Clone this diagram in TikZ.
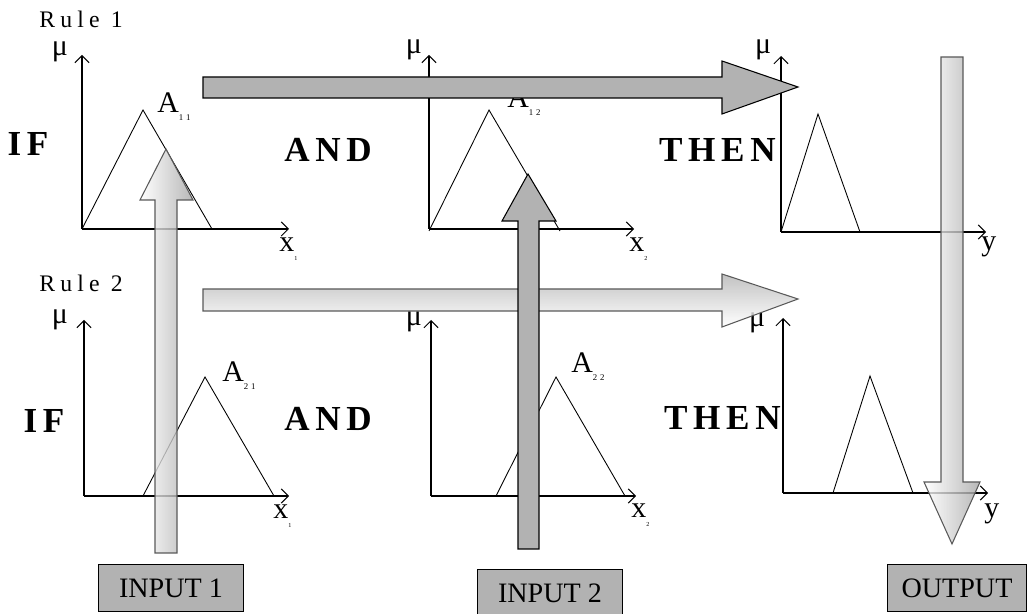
\documentclass[tikz,border=0pt]{standalone}
\usepackage{xcolor}
\usepackage{fontspec}
\setmainfont{Liberation Serif}
\newfontfamily\rulefont[LetterSpace=22]{Liberation Serif}
\newfontfamily\wordfont[LetterSpace=16]{Liberation Serif}
\usepackage{tikz}
\usetikzlibrary{arrows.meta}
\newcommand\subA[2]{A\raisebox{-.55ex}{\fontsize{5}{5}\selectfont #1\,\,#2}}
\newcommand\subX[2]{#1\raisebox{-.6ex}{\fontsize{3.5}{3.5}\selectfont #2}}

\begin{document}
\begin{tikzpicture}[x=0.02cm,y=-0.02cm,
    axis/.style={-{Straight Barb[length=4pt,width=8pt]},line width=0.6pt},
    memb/.style={line width=0.5pt},
    word/.style={font=\fontsize{20}{22}\selectfont\wordfont\bfseries},
    rulelab/.style={font=\fontsize{13.5}{14}\selectfont\rulefont,inner sep=1pt},
    lab/.style={font=\fontsize{17}{19}\selectfont,inner sep=0pt},
    iobox/.style={draw,fill=black!30,minimum width=82pt,minimum height=27pt,
      font=\fontsize{16}{18}\selectfont,line width=0.6pt},
    solidarrow/.style={draw=black,fill=black!30,line width=0.6pt},
    vshade/.style={draw=black!65,line width=0.6pt,left color=white,right color=black!35,fill opacity=0.8},
    hshade/.style={draw=black!65,line width=0.6pt,top color=black!30,bottom color=white,fill opacity=0.8}]
    \useasboundingbox (0,0) rectangle (1028,614);
    % axes of the six membership plots
    \foreach \n/\ox/\oy/\ty/\ex in {
     a/82/229/55/289,b/429/229/55/634,c/781/232/56/986,
     d/84/496/320/289,e/431/496/320/636,f/783/493/318/988
     } {
      \coordinate (o\n) at (\ox,\oy);
      \coordinate (t\n) at (\ox,\ty);
      \coordinate (e\n) at (\ex,\oy);
      \draw[axis] (o\n) -- (t\n);
      \draw[axis] (o\n) -- (e\n);
     }
    % membership functions
    \foreach \l/\ax/\ay/\r/\b in {
     82/143/110/212/229,429/489/110/560/231,781/818/114/860/232,
     143/205/377/274/496,496/556/377/625/496,833/870/376/913/493
     } {
      \draw[memb] (\l,\b) -- (\ax,\ay) -- (\r,\b);
     }
    % mu labels
    \foreach \n/\x/\y in {a/60/52,b/414/50,c/763/50,d/60/320,e/414/322,f/757/323} {
      \node[lab] (mu\n) at (\x,\y) {μ};
     }
    \node[rulelab] (rule1) at (81,19) {Rule 1};
    \node[rulelab] (rule2) at (81,283) {Rule 2};
    \node[lab,anchor=base west] (A11) at (157,113) {\subA{1}{1}};
    \node[lab,anchor=base west] (A12) at (507,108) {\subA{1}{2}};
    \node[lab,anchor=base west] (A21) at (222,382) {\subA{2}{1}};
    \node[lab,anchor=base west] (A22) at (571,373) {\subA{2}{2}};
    \node[lab,anchor=base west] (xa) at (279,252) {\subX{x}{1}};
    \node[lab,anchor=base west] (xb) at (629,252) {\subX{x}{2}};
    \node[lab,anchor=base west] (ya) at (981,251) {y};
    \node[lab,anchor=base west] (xd) at (273,519) {\subX{x}{1}};
    \node[lab,anchor=base west] (xe) at (631,518) {\subX{x}{2}};
    \node[lab,anchor=base west] (yf) at (984,518) {y};
    \node[word] (if1) at (28,144) {IF};
    \node[word] (if2) at (44,421) {IF};
    \node[word] (and1) at (328,150) {AND};
    \node[word] (and2) at (328,419) {AND};
    \node[word,anchor=east,inner sep=0pt] (then1) at (776,150) {THEN};
    \node[word,anchor=east,inner sep=0pt] (then2) at (781,418) {THEN};
    % input and output boxes
    \node[iobox] (in1) at (171,588) {INPUT 1};
    \node[iobox] (in2) at (550,593) {INPUT 2};
    \node[iobox,minimum width=79pt] (out) at (957,588) {OUTPUT};
    % block arrows
    \path[hshade] (203,289) -- (722,289) -- (722,274) -- (798,299)
      -- (722,327) -- (722,311) -- (203,311) -- cycle;
    \path[vshade] (155,553) -- (155,200) -- (140,200) -- (166,149)
      -- (193,200) -- (177,200) -- (177,553) -- cycle;
    \path[vshade] (941,57) -- (941,482) -- (924,482) -- (952,544)
      -- (980,482) -- (963,482) -- (963,57) -- cycle;
    \path[solidarrow] (203,77) -- (722,77) -- (722,61) -- (798,87)
      -- (722,114) -- (722,98) -- (203,98) -- cycle;
    \path[solidarrow] (518,549) -- (518,221) -- (502,221) -- (528,174)
      -- (556,221) -- (539,221) -- (539,549) -- cycle;
   \end{tikzpicture}
\end{document}
